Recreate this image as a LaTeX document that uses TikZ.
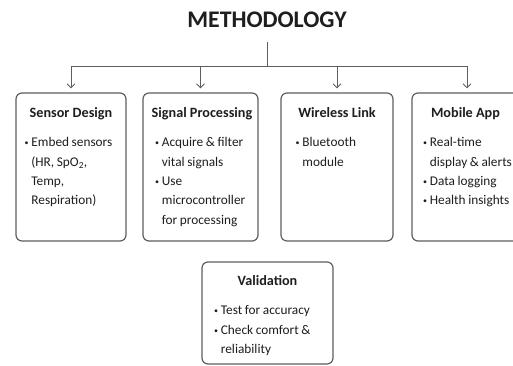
\documentclass[tikz,border=0pt]{standalone}
\usepackage{fontspec}
\setmainfont{Carlito}
\usetikzlibrary{positioning, calc, arrows.meta}

\definecolor{linegray}{HTML}{5E5E5E}
\definecolor{textdark}{HTML}{1E1E1E}

\newcommand{\bodysize}{\fontsize{13.3}{19.4}\selectfont\spaceskip=2.6pt plus 1pt minus 0.5pt}
\newcommand{\itm}{\rule{0pt}{10.5pt}\makebox[6.8pt][l]{\raisebox{1pt}{\scalebox{0.6}{\textbullet}}}}
\newcommand{\cnt}{\hspace*{6.8pt}}

\tikzstyle{title} = [font=\fontsize{23.8}{28}\selectfont\bfseries, text=textdark, anchor=base, inner sep=0pt]
\tikzstyle{block} = [rectangle, rounded corners=6pt, draw=linegray, line width=1.2pt, fill=white, minimum height=148pt]
\tikzstyle{heading} = [font=\fontsize{14.2}{17}\selectfont\bfseries, text=textdark, anchor=base, inner sep=0pt]
\tikzstyle{body} = [font=\bodysize, text=textdark, align=left, anchor=north west, inner sep=0pt]
\tikzstyle{line} = [draw=linegray, line width=0.9pt]
\tikzstyle{arrow} = [line, -{Straight Barb[length=4pt, width=8pt]}, shorten >=4pt]

\begin{document}
\begin{tikzpicture}[x=1pt, y=-1pt]
    \useasboundingbox (0,0) rectangle (513,366);

    \node (title) [title] at (267,28) {METHODOLOGY};
    \coordinate (hub) at (267,66);

    \node (sensor) [block, minimum width=110pt] at (71,167) {};
    \node (signal) [block, minimum width=115pt] at (200.5,167) {};
    \node (wireless) [block, minimum width=112pt] at (337,167) {};
    \node (mobile) [block, minimum width=110pt] at (467,167) {};
    \node (valid) [block, minimum width=131pt, minimum height=102pt] at (267.5,313) {};

    \node (sensor_head) [heading] at ($(sensor.north)+(0,25)$) {Sensor Design};
    \node (signal_head) [heading] at ($(signal.north)+(1.5,25)$) {Signal Processing};
    \node (wireless_head) [heading] at ($(wireless.north)+(0,25)$) {Wireless Link};
    \node (mobile_head) [heading] at ($(mobile.north)+(-1.5,25)$) {Mobile App};
    \node (valid_head) [heading] at ($(valid.north)+(0,24)$) {Validation};

    \node (sensor_text) [body] at ($(sensor.north west)+(9,43.5)$)
        {\itm Embed sensors\\ \cnt(HR, SpO\textsubscript{2},\\ \cnt Temp,\\ \cnt Respiration)};
    \node (signal_text) [body] at ($(signal.north west)+(12.5,43.5)$)
        {\itm Acquire \& filter\\ \cnt vital signals\\ \itm Use\\ \cnt microcontroller\\ \cnt for processing};
    \node (wireless_text) [body] at ($(wireless.north west)+(15,43.5)$)
        {\itm Bluetooth\\ \cnt module};
    \node (mobile_text) [body] at ($(mobile.north west)+(11.5,43.5)$)
        {\itm Real-time\\ \cnt display \& alerts\\ \itm Data logging\\ \itm Health insights};
    \node (valid_text) [body] at ($(valid.north west)+(12.5,42.5)$)
        {\itm Test for accuracy\\ \itm Check comfort \&\\ \cnt reliability};

    \draw [line, shorten <=14pt] (title) -- (hub);
    \draw [arrow] (hub) -| (sensor.north);
    \draw [arrow] (hub) -| (signal.north);
    \draw [arrow] (hub) -| (wireless.north);
    \draw [arrow] (hub) -| (mobile.north);

\end{tikzpicture}
\end{document}
